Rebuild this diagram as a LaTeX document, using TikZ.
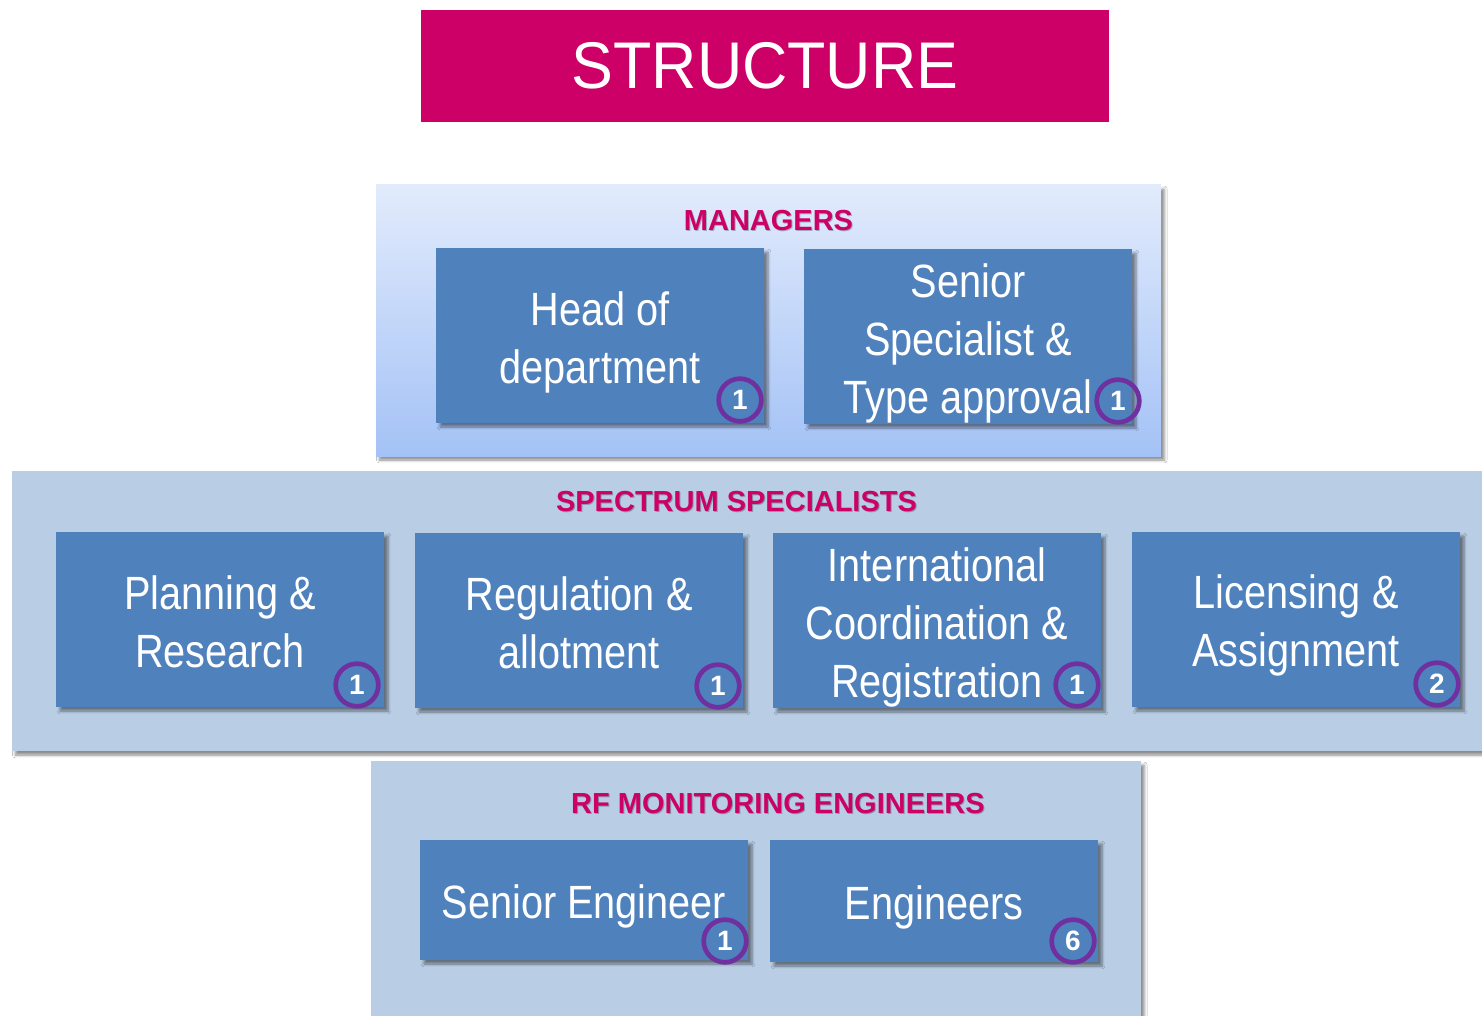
\documentclass[tikz,border=0pt]{standalone}
\usepackage{fontspec}
\setmainfont{Liberation Sans}
\newfontfamily\narrowfont{Liberation Sans}[FakeStretch=0.85]
\newfontfamily\titlefont{Liberation Sans}[FakeStretch=0.95]
\usetikzlibrary{shadows,shadows.blur}
\definecolor{magentared}{RGB}{204,0,102}
\definecolor{boxblue}{RGB}{79,129,189}
\definecolor{panelblue}{RGB}{185,205,229}
\definecolor{gradtop}{RGB}{226,235,252}
\definecolor{gradbot}{RGB}{164,194,246}
\definecolor{circpurple}{RGB}{112,48,160}
\tikzset{
  panel/.style={fill=panelblue, draw=none, inner sep=0pt,
    blur shadow={shadow xshift=2.5pt, shadow yshift=-3pt, shadow blur steps=4, shadow opacity=45}},
  rolebox/.style={fill=boxblue, draw=none, inner sep=0pt,
    minimum width=246pt, minimum height=131.25pt,
    blur shadow={shadow xshift=3pt, shadow yshift=-3pt, shadow blur steps=5, shadow opacity=45}},
  roletext/.style={text=white, inner sep=0pt, align=center,
    font=\narrowfont\fontsize{35}{43.5}\selectfont},
  countc/.style={circle, draw=circpurple, line width=3.5pt, minimum size=32pt, inner sep=0pt,
    text=white, font=\bfseries\fontsize{21}{21}\selectfont},
  grouplbl/.style={text=magentared, font=\bfseries\fontsize{21.75}{24}\selectfont, inner sep=0pt},
  grouplblsh/.style={text=black, opacity=0.25, font=\bfseries\fontsize{21.75}{24}\selectfont, inner sep=0pt}
}
\begin{document}
\begin{tikzpicture}[x=0.75pt, y=-0.75pt]
\useasboundingbox (0,0) rectangle (1482,1016);
\fill[white] (0,0) rectangle (1482,1016);
% title
\node[fill=magentared, minimum width=516pt, minimum height=84pt, inner sep=0pt,
  text=white, font=\titlefont\fontsize{49.5}{50}\selectfont] (title) at (765,66) {STRUCTURE};
% managers panel
\node[panel, top color=gradtop, bottom color=gradbot, minimum width=588.75pt, minimum height=203.25pt] (mgr) at (768.5,320.5) {};
\node[grouplblsh] (mgrlsh) at (769.5,222) {MANAGERS};
\node[grouplbl] (mgrl) at (768.5,221) {MANAGERS};
\node[rolebox] (head) at (600,335.5) {};
\node[roletext] (headt) at ([yshift=-5pt]head.center) {Head of\\department};
\node[rolebox] (senspec) at (968,336.5) {};
\node[roletext] (senspect) at ([yshift=-5pt]senspec.center) {Senior\\Specialist \&\\Type approval};
\node[countc] (c1) at (740,400) {1};
\node[countc] (c2) at (1118,401) {1};
% spectrum specialists panel
\node[panel, minimum width=1102.5pt, minimum height=210pt] (spec) at (747,611) {};
\node[grouplblsh] (specl2) at (737.5,503) {SPECTRUM SPECIALISTS};
\node[grouplbl] (specl) at (736.5,502) {SPECTRUM SPECIALISTS};
\node[rolebox] (plan) at (220,619.5) {};
\node[roletext] (plant) at ([yshift=-1.5pt]plan.center) {Planning \&\\Research};
\node[rolebox] (reg) at (579,620.5) {};
\node[roletext] (regt) at ([yshift=-1.5pt]reg.center) {Regulation \&\\allotment};
\node[rolebox] (intl) at (937,620.5) {};
\node[roletext] (intlt) at ([yshift=-5.5pt]intl.center) {International\\Coordination \&\\Registration};
\node[rolebox] (lic) at (1296,619.5) {};
\node[roletext] (lict) at ([yshift=-4.5pt]lic.center) {Licensing \&\\Assignment};
\node[countc] (c3) at (357,685) {1};
\node[countc] (c4) at (718,686) {1};
\node[countc] (c5) at (1077,685) {1};
\node[countc] (c6) at (1437,684) {2};
% RF monitoring panel
\node[panel, minimum width=577.5pt, minimum height=195pt] (rf) at (756,891) {};
\node[grouplblsh] (rfl2) at (779,805) {RF MONITORING ENGINEERS};
\node[grouplbl] (rfl) at (778,804) {RF MONITORING ENGINEERS};
\node[rolebox, minimum height=90pt] (seng) at (584,900) {};
\node[roletext] (sengt) at ([yshift=-4.5pt]seng.center) {Senior Engineer};
\node[rolebox, minimum height=91.5pt] (eng) at (934,901) {};
\node[roletext] (engt) at ([yshift=-4.5pt]eng.center) {Engineers};
\node[countc] (c7) at (725,941) {1};
\node[countc] (c8) at (1073,941) {6};
\end{tikzpicture}
\end{document}
